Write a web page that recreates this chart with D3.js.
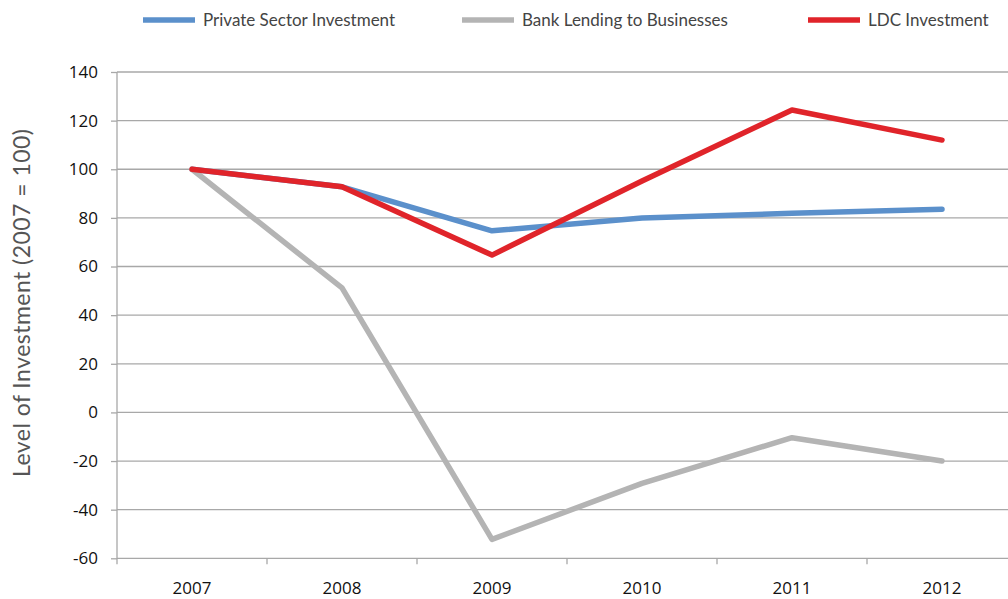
<!DOCTYPE html>
<html>
<head>
<meta charset="utf-8">
<script src="https://cdn.jsdelivr.net/npm/d3@7"></script>
<style>
  html, body { margin: 0; padding: 0; background: #fff; }
  svg { display: block; }
</style>
</head>
<body>
<svg id="chart" width="1008" height="599"></svg>
<script>
// Years on the category axis
const years = ["2007", "2008", "2009", "2010", "2011", "2012"];

// Index of investment level, 2007 = 100
const privateSector = [100, 92.8, 74.7, 80, 81.9, 83.6];
const bankLending = [100, 51.2, -52.2, -29.2, -10.4, -20];
const ldcInvestment = [100, 92.8, 64.7, 95.2, 124.4, 112];

// Value axis ticks
const yTicks = [-60, -40, -20, 0, 20, 40, 60, 80, 100, 120, 140];

const seriesNames = ["Private Sector Investment", "Bank Lending to Businesses", "LDC Investment"];
const seriesColors = ["#5b90cb", "#b4b4b4", "#e0242a"];
const seriesValues = [privateSector, bankLending, ldcInvestment];

const svg = d3.select("#chart");
const plotLeft = 117, plotTop = 72, plotBottom = 558.3;
const bandWidth = 150;

const x = d3.scaleBand().domain(years).range([plotLeft, plotLeft + bandWidth * years.length]).padding(0);
const y = d3.scaleLinear().domain([-60, 140]).range([plotBottom, plotTop]);

// Horizontal gridlines
svg.append("g")
  .selectAll("line")
  .data(yTicks)
  .join("line")
  .attr("x1", plotLeft).attr("x2", 1008)
  .attr("y1", d => y(d)).attr("y2", d => y(d))
  .attr("stroke", "#a8a8a8").attr("stroke-width", 1.3);

// Value axis (plain hyphen for negatives)
const yAxis = d3.axisLeft(y).tickValues(yTicks).tickSize(6).tickPadding(13).tickFormat(d => String(d));
const yg = svg.append("g").attr("transform", `translate(${plotLeft},0)`).call(yAxis);
yg.select(".domain").attr("stroke", "#a8a8a8").attr("stroke-width", 1.3)
  .attr("d", `M0,${plotTop}V${plotBottom + 6}`);
yg.selectAll(".tick line").attr("stroke", "#a8a8a8").attr("stroke-width", 1.3);
yg.selectAll(".tick text")
  .attr("font-family", "'Open Sans', sans-serif").attr("font-size", 17).attr("fill", "#111");

// Category axis
const xAxis = d3.axisBottom(x).tickSize(0).tickPadding(24);
const xg = svg.append("g").attr("transform", `translate(0,${plotBottom})`).call(xAxis);
xg.select(".domain").remove();
xg.selectAll(".tick text")
  .attr("font-family", "'Open Sans', sans-serif").attr("font-size", 17).attr("fill", "#111");
// Tick marks at band boundaries
xg.append("g").selectAll("line")
  .data(years)
  .join("line")
  .attr("x1", d => x(d) + bandWidth).attr("x2", d => x(d) + bandWidth)
  .attr("y1", 0).attr("y2", 6)
  .attr("stroke", "#a8a8a8").attr("stroke-width", 1.3);

// Series lines
const line = d3.line()
  .x((d, i) => x(years[i]) + x.bandwidth() / 2)
  .y(d => y(d));

svg.append("g")
  .selectAll("path")
  .data(seriesValues)
  .join("path")
  .attr("d", d => line(d))
  .attr("fill", "none")
  .attr("stroke", (d, i) => seriesColors[i])
  .attr("stroke-width", 5.5)
  .attr("stroke-linejoin", "round")
  .attr("stroke-linecap", "round");

// Legend across the top
const legendX = [143, 462, 808];
const legend = svg.append("g")
  .selectAll("g")
  .data(seriesNames)
  .join("g")
  .attr("transform", (d, i) => `translate(${legendX[i]},20)`);
legend.append("line")
  .attr("x1", 0).attr("x2", 52).attr("y1", 0).attr("y2", 0)
  .attr("stroke", (d, i) => seriesColors[i]).attr("stroke-width", 5.5);
legend.append("text")
  .attr("x", 60).attr("y", 6)
  .attr("font-family", "Lato, sans-serif").attr("font-size", 17).attr("fill", "#444")
  .text(d => d);

// Value axis title
svg.append("text")
  .attr("transform", "translate(30,303) rotate(-90)")
  .attr("text-anchor", "middle")
  .attr("font-family", "Lato, sans-serif").attr("font-size", 23).attr("fill", "#555")
  .attr("textLength", 348).attr("lengthAdjust", "spacing")
  .text("Level of Investment (2007 = 100)");
</script>
</body>
</html>
